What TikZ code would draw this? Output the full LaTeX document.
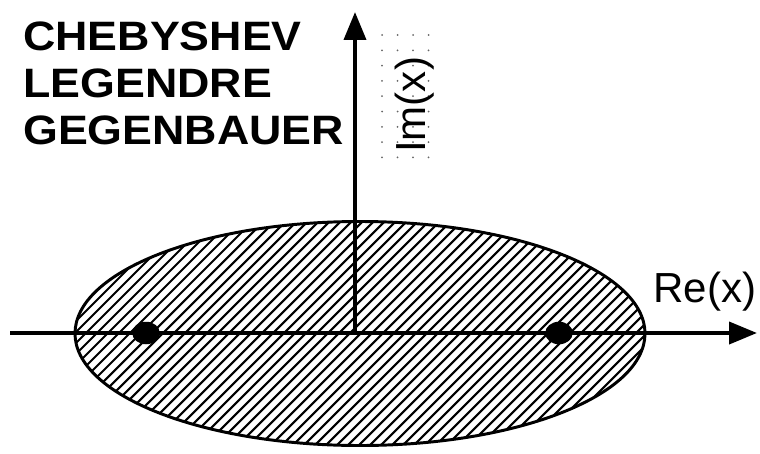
\documentclass[tikz,border=0pt]{standalone}
\usepackage{fontspec}
\setmainfont{Liberation Sans}
\newfontfamily\titlefont[FakeStretch=1.09]{Liberation Sans}
\usetikzlibrary{positioning}
\usetikzlibrary{shapes.geometric}
\usetikzlibrary{arrows.meta}

\begin{document}
\begin{tikzpicture}[x=0.025cm, y=-0.025cm,
		ax/.style = {-{Triangle[length=19.9pt, width=15.6pt]}, line width=2.85pt},
		pt/.style = {ellipse, fill=black, inner sep=0, minimum width=19.6pt, minimum height=16pt},
		lbl/.style = {inner sep=0, font=\fontsize{29.9pt}{36pt}\selectfont},
		ttl/.style = {inner sep=0, align=left, font=\titlefont\fontsize{29.2pt}{33.1pt}\selectfont\bfseries},
		hatch/.style = {line width=1.5pt}
		]
		\useasboundingbox (0,0) rectangle (760,453);
		
		%Hatched region
		\begin{scope}
			\clip (360,333.5) ellipse [x radius=285, y radius=112];
			\foreach \x in {-250,-239,...,700}
				\draw[hatch] (\x,460) -- ++(240,-240);
		\end{scope}
		\draw[line width=2.1pt] (360,333.5) ellipse [x radius=285, y radius=112];
		
		%Dot grid behind the label
		\foreach \i in {0,...,3}
			\foreach \j in {0,...,8}
				\fill[black!60] (382+15.5*\i, 35+15.3*\j) circle [radius=1];
		
		%Nodes
		\node[ttl, anchor=north west]	(title)	at	(23,22)		{CHEBYSHEV\\LEGENDRE\\GEGENBAUER};
		\node[lbl, anchor=base west]	(re)	at	(653,302)	{Re(x)};
		\node[lbl, anchor=base west, rotate=90]	(im)	at	(425,153)	{Im(x)};
		\coordinate	(o)		at	(355,333);
		\coordinate	(xl)	at	(10,333);
		\coordinate	(xr)	at	(757,333);
		\coordinate	(yt)	at	(355,12);
		
		%Lines
		\draw[ax]	(xl)	--	(xr);
		\draw[ax]	(o)		--	(yt);
		
		%Points
		\node[pt]	(a)	at	(146,333)	{};
		\node[pt]	(b)	at	(559,333)	{};
	\end{tikzpicture}
\end{document}
